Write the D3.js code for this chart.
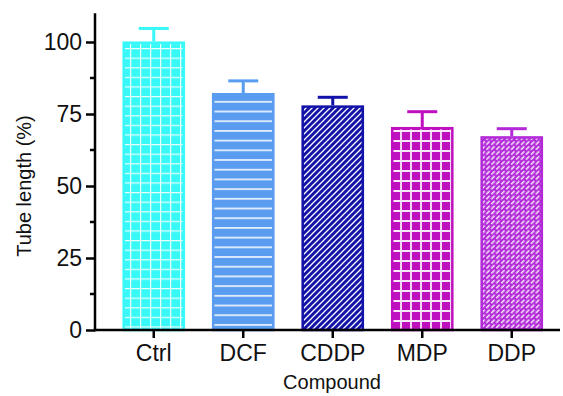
<!DOCTYPE html>
<html>
<head>
<meta charset="utf-8">
<script src="https://cdn.jsdelivr.net/npm/d3@7"></script>
<style>
   body { margin: 0; background: #fff; }
   svg { display: block; font-family: 'Liberation Sans', Arial, sans-serif; }
</style>
</head>
<body>
<div id="chart"></div>
<script>
// data
const compounds = ['Ctrl', 'DCF', 'CDDP', 'MDP', 'DDP'];
const means = [100.2, 82.3, 78.0, 70.5, 67.3];
const errors = [4.5, 4.2, 2.8, 5.3, 2.6];
const barColors = ['#38f8f8', '#5a9cf0', '#1212a8', '#bf10c0', '#b22ad8'];
const yTicks = [0, 25, 50, 75, 100];

const width = 563;
const height = 396;

const svg = d3
   .select('#chart')
   .append('svg')
   .attr('width', width)
   .attr('height', height);

const defs = svg.append('defs');

// fill patterns, one per compound
function pattern(id, w, h, color, draw, transform) {
   const p = defs
      .append('pattern')
      .attr('id', id)
      .attr('patternUnits', 'userSpaceOnUse')
      .attr('width', w)
      .attr('height', h);
   if (transform) p.attr('patternTransform', transform);
   p.append('rect').attr('width', w).attr('height', h).attr('fill', color);
   draw(p);
}

pattern('p0', 10, 9.6, barColors[0], (p) => {
   p.append('path')
      .attr('d', 'M0,0.5H10M0.5,0V9.6')
      .attr('stroke', '#fff')
      .attr('stroke-width', 1.4)
      .attr('opacity', 0.9);
});
pattern('p1', 10, 9.7, barColors[1], (p) => {
   p.append('path')
      .attr('d', 'M0,4.8H10')
      .attr('stroke', '#fff')
      .attr('stroke-width', 1.5);
});
pattern('p2', 6, 6, barColors[2], (p) => {
   p.append('path')
      .attr('d', 'M-1,7L7,-1M-1,1L1,-1M5,7L7,5')
      .attr('stroke', '#fff')
      .attr('stroke-width', 1.3);
});
pattern('p3', 10, 10, barColors[3], (p) => {
   p.append('path')
      .attr('d', 'M0,1H10M1,0V10')
      .attr('stroke', '#fff')
      .attr('stroke-width', 1.8)
      .attr('opacity', 0.9);
});
// brick pattern turned 45 degrees
pattern(
   'p4',
   7,
   7,
   barColors[4],
   (p) => {
      p.append('path')
         .attr('d', 'M0,1.75H4.8M3.5,5.25H8.3M-3.5,5.25H1.3')
         .attr('stroke', '#fff')
         .attr('stroke-width', 1.5)
         .attr('opacity', 0.9);
   },
   'rotate(-45)'
);

const xScale = d3
   .scaleBand()
   .domain(compounds)
   .range([109, 556.5])
   .paddingInner(0.3)
   .paddingOuter(0.15);

const yScale = d3.scaleLinear().domain([0, 110]).range([330, 13.2]);

const axisX0 = 95;

// bars
const bars = svg
   .append('g')
   .selectAll('g')
   .data(compounds)
   .join('g');

bars
   .append('line')
   .attr('x1', (d) => xScale(d) + xScale.bandwidth() / 2)
   .attr('x2', (d) => xScale(d) + xScale.bandwidth() / 2)
   .attr('y1', (d, i) => yScale(means[i]))
   .attr('y2', (d, i) => yScale(means[i] + errors[i]))
   .attr('stroke', (d, i) => barColors[i])
   .attr('stroke-width', 3);

bars
   .append('line')
   .attr('x1', (d) => xScale(d) + xScale.bandwidth() / 2 - 15)
   .attr('x2', (d) => xScale(d) + xScale.bandwidth() / 2 + 15)
   .attr('y1', (d, i) => yScale(means[i] + errors[i]))
   .attr('y2', (d, i) => yScale(means[i] + errors[i]))
   .attr('stroke', (d, i) => barColors[i])
   .attr('stroke-width', 3);

bars
   .append('rect')
   .attr('x', (d) => xScale(d) + 1.25)
   .attr('y', (d, i) => yScale(means[i]) + 1.25)
   .attr('width', xScale.bandwidth() - 2.5)
   .attr('height', (d, i) => yScale(0) - yScale(means[i]) - 1.25)
   .attr('fill', (d, i) => `url(#p${i})`)
   .attr('stroke', (d, i) => barColors[i])
   .attr('stroke-width', 2.5);

// y axis
const yAxis = d3
   .axisLeft(yScale)
   .tickValues(yTicks)
   .tickSize(9)
   .tickPadding(4)
   .tickSizeOuter(0);

const yAxisG = svg
   .append('g')
   .attr('transform', `translate(${axisX0},0)`)
   .call(yAxis);

yAxisG.select('.domain').remove();
yAxisG
   .selectAll('.tick line')
   .attr('stroke', '#000')
   .attr('stroke-width', 2.5);
yAxisG
   .selectAll('.tick text')
   .attr('font-size', 23)
   .attr('fill', '#111')
   .attr('font-family', "'Liberation Sans', Arial, sans-serif");

// minor ticks
svg
   .append('g')
   .selectAll('line')
   .data(d3.range(12.5, 110, 25))
   .join('line')
   .attr('x1', axisX0 - 5)
   .attr('x2', axisX0)
   .attr('y1', (d) => yScale(d))
   .attr('y2', (d) => yScale(d))
   .attr('stroke', '#000')
   .attr('stroke-width', 2.5);

svg
   .append('line')
   .attr('x1', axisX0)
   .attr('x2', axisX0)
   .attr('y1', yScale(110))
   .attr('y2', yScale(0) + 1.25)
   .attr('stroke', '#000')
   .attr('stroke-width', 2.5);

// x axis
const xAxis = d3.axisBottom(xScale).tickSize(8).tickPadding(7).tickSizeOuter(0);

const xAxisG = svg
   .append('g')
   .attr('transform', `translate(0,${yScale(0)})`)
   .call(xAxis);

xAxisG.select('.domain').remove();
xAxisG
   .selectAll('.tick line')
   .attr('stroke', '#000')
   .attr('stroke-width', 2.5);
xAxisG
   .selectAll('.tick text')
   .attr('font-size', 23)
   .attr('fill', '#111')
   .attr('font-family', "'Liberation Sans', Arial, sans-serif");

svg
   .append('line')
   .attr('x1', axisX0 - 1.25)
   .attr('x2', 560)
   .attr('y1', yScale(0))
   .attr('y2', yScale(0))
   .attr('stroke', '#000')
   .attr('stroke-width', 2.5);

// axis titles
svg
   .append('text')
   .attr('x', 332)
   .attr('y', 389)
   .attr('text-anchor', 'middle')
   .attr('font-size', 20)
   .attr('fill', '#111')
   .text('Compound');

svg
   .append('text')
   .attr('transform', 'translate(31,186) rotate(-90)')
   .attr('text-anchor', 'middle')
   .attr('font-size', 20)
   .attr('fill', '#111')
   .text('Tube length (%)');
</script>
</body>
</html>
